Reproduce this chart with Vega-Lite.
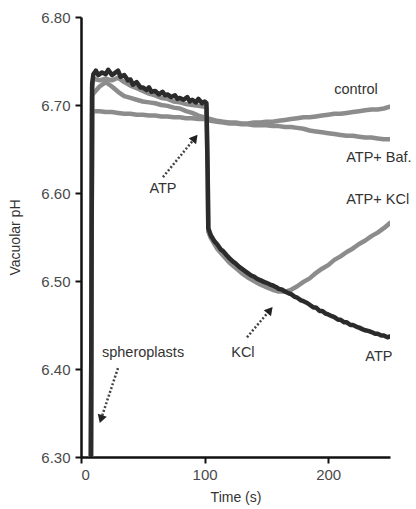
{
  "$schema": "https://vega.github.io/schema/vega-lite/v6.json",
  "width": 309,
  "height": 440,
  "autosize": {"type": "none"},
  "padding": {"left": 81, "top": 17, "right": 26, "bottom": 52},
  "background": "white",
  "config": {
    "view": {"stroke": null},
    "font": "Liberation Sans",
    "axis": {"grid": false, "domainColor": "#111", "domainWidth": 2.5, "tickColor": "#111", "tickWidth": 2, "tickSize": 6, "labelFontSize": 15, "labelColor": "#4a4a4a", "titleFontSize": 14, "titleFontWeight": "normal", "titleColor": "#333"}
  },
  "datasets": {
    "atp": [
      {"t":8,"pH":6.28},{"t":9,"pH":6.724},{"t":10,"pH":6.735},{"t":12,"pH":6.739},{"t":14,"pH":6.734},{"t":17,"pH":6.737},{"t":20,"pH":6.735},{"t":22,"pH":6.74},{"t":25,"pH":6.734},{"t":27,"pH":6.736},{"t":30,"pH":6.739},{"t":32,"pH":6.732},{"t":35,"pH":6.734},{"t":38,"pH":6.728},{"t":40,"pH":6.729},{"t":42,"pH":6.723},{"t":45,"pH":6.726},{"t":48,"pH":6.72},{"t":50,"pH":6.72},{"t":53,"pH":6.717},{"t":55,"pH":6.72},{"t":57,"pH":6.715},{"t":60,"pH":6.716},{"t":63,"pH":6.712},{"t":66,"pH":6.715},{"t":68,"pH":6.711},{"t":70,"pH":6.712},{"t":73,"pH":6.709},{"t":76,"pH":6.711},{"t":78,"pH":6.707},{"t":80,"pH":6.708},{"t":83,"pH":6.706},{"t":86,"pH":6.709},{"t":88,"pH":6.704},{"t":90,"pH":6.706},{"t":93,"pH":6.703},{"t":95,"pH":6.707},{"t":98,"pH":6.702},{"t":100,"pH":6.704},{"t":101.5,"pH":6.702},{"t":102.5,"pH":6.62},{"t":103,"pH":6.56},{"t":105,"pH":6.552},{"t":108,"pH":6.545},{"t":110,"pH":6.542},{"t":113,"pH":6.536},{"t":115,"pH":6.534},{"t":118,"pH":6.529},{"t":120,"pH":6.526},{"t":123,"pH":6.522},{"t":125,"pH":6.52},{"t":128,"pH":6.516},{"t":130,"pH":6.514},{"t":133,"pH":6.511},{"t":135,"pH":6.509},{"t":138,"pH":6.506},{"t":140,"pH":6.505},{"t":143,"pH":6.502},{"t":145,"pH":6.501},{"t":148,"pH":6.499},{"t":150,"pH":6.498},{"t":153,"pH":6.496},{"t":155,"pH":6.495},{"t":158,"pH":6.493},{"t":160,"pH":6.491},{"t":163,"pH":6.49},{"t":165,"pH":6.488},{"t":168,"pH":6.486},{"t":170,"pH":6.485},{"t":173,"pH":6.482},{"t":175,"pH":6.481},{"t":178,"pH":6.478},{"t":180,"pH":6.477},{"t":183,"pH":6.475},{"t":185,"pH":6.473},{"t":188,"pH":6.47},{"t":190,"pH":6.47},{"t":193,"pH":6.466},{"t":195,"pH":6.466},{"t":198,"pH":6.463},{"t":200,"pH":6.462},{"t":203,"pH":6.46},{"t":205,"pH":6.459},{"t":208,"pH":6.456},{"t":210,"pH":6.456},{"t":213,"pH":6.453},{"t":215,"pH":6.453},{"t":218,"pH":6.45},{"t":220,"pH":6.45},{"t":223,"pH":6.448},{"t":225,"pH":6.447},{"t":228,"pH":6.445},{"t":230,"pH":6.444},{"t":233,"pH":6.443},{"t":235,"pH":6.442},{"t":238,"pH":6.44},{"t":240,"pH":6.44},{"t":243,"pH":6.438},{"t":245,"pH":6.438},{"t":248,"pH":6.436},{"t":250,"pH":6.437}
    ],
    "gray": [
      {"s":"ATP+ KCl","t":8,"pH":6.28},{"s":"ATP+ KCl","t":9,"pH":6.72},{"s":"ATP+ KCl","t":10,"pH":6.73},{"s":"ATP+ KCl","t":15,"pH":6.728},{"s":"ATP+ KCl","t":20,"pH":6.73},{"s":"ATP+ KCl","t":25,"pH":6.728},{"s":"ATP+ KCl","t":30,"pH":6.731},{"s":"ATP+ KCl","t":35,"pH":6.726},{"s":"ATP+ KCl","t":40,"pH":6.722},{"s":"ATP+ KCl","t":45,"pH":6.719},{"s":"ATP+ KCl","t":50,"pH":6.716},{"s":"ATP+ KCl","t":55,"pH":6.713},{"s":"ATP+ KCl","t":60,"pH":6.711},{"s":"ATP+ KCl","t":65,"pH":6.708},{"s":"ATP+ KCl","t":70,"pH":6.707},{"s":"ATP+ KCl","t":75,"pH":6.704},{"s":"ATP+ KCl","t":80,"pH":6.703},{"s":"ATP+ KCl","t":85,"pH":6.701},{"s":"ATP+ KCl","t":90,"pH":6.7},{"s":"ATP+ KCl","t":95,"pH":6.699},{"s":"ATP+ KCl","t":100,"pH":6.698},{"s":"ATP+ KCl","t":101.5,"pH":6.697},{"s":"ATP+ KCl","t":102.5,"pH":6.62},{"s":"ATP+ KCl","t":103,"pH":6.556},{"s":"ATP+ KCl","t":105,"pH":6.549},{"s":"ATP+ KCl","t":110,"pH":6.537},{"s":"ATP+ KCl","t":115,"pH":6.529},{"s":"ATP+ KCl","t":120,"pH":6.521},{"s":"ATP+ KCl","t":125,"pH":6.515},{"s":"ATP+ KCl","t":130,"pH":6.509},{"s":"ATP+ KCl","t":135,"pH":6.504},{"s":"ATP+ KCl","t":140,"pH":6.5},{"s":"ATP+ KCl","t":145,"pH":6.496},{"s":"ATP+ KCl","t":150,"pH":6.493},{"s":"ATP+ KCl","t":155,"pH":6.49},{"s":"ATP+ KCl","t":160,"pH":6.488},{"s":"ATP+ KCl","t":165,"pH":6.488},{"s":"ATP+ KCl","t":170,"pH":6.49},{"s":"ATP+ KCl","t":175,"pH":6.494},{"s":"ATP+ KCl","t":180,"pH":6.499},{"s":"ATP+ KCl","t":185,"pH":6.503},{"s":"ATP+ KCl","t":190,"pH":6.509},{"s":"ATP+ KCl","t":195,"pH":6.514},{"s":"ATP+ KCl","t":200,"pH":6.518},{"s":"ATP+ KCl","t":205,"pH":6.524},{"s":"ATP+ KCl","t":210,"pH":6.528},{"s":"ATP+ KCl","t":215,"pH":6.533},{"s":"ATP+ KCl","t":220,"pH":6.537},{"s":"ATP+ KCl","t":225,"pH":6.542},{"s":"ATP+ KCl","t":230,"pH":6.546},{"s":"ATP+ KCl","t":235,"pH":6.551},{"s":"ATP+ KCl","t":240,"pH":6.555},{"s":"ATP+ KCl","t":245,"pH":6.56},{"s":"ATP+ KCl","t":250,"pH":6.566},
      {"s":"control","t":8,"pH":6.28},{"s":"control","t":9,"pH":6.71},{"s":"control","t":10,"pH":6.713},{"s":"control","t":15,"pH":6.721},{"s":"control","t":20,"pH":6.726},{"s":"control","t":25,"pH":6.721},{"s":"control","t":30,"pH":6.715},{"s":"control","t":35,"pH":6.71},{"s":"control","t":40,"pH":6.708},{"s":"control","t":45,"pH":6.706},{"s":"control","t":50,"pH":6.704},{"s":"control","t":55,"pH":6.703},{"s":"control","t":60,"pH":6.702},{"s":"control","t":65,"pH":6.7},{"s":"control","t":70,"pH":6.699},{"s":"control","t":75,"pH":6.697},{"s":"control","t":80,"pH":6.696},{"s":"control","t":85,"pH":6.693},{"s":"control","t":90,"pH":6.691},{"s":"control","t":95,"pH":6.688},{"s":"control","t":100,"pH":6.686},{"s":"control","t":105,"pH":6.684},{"s":"control","t":110,"pH":6.682},{"s":"control","t":115,"pH":6.681},{"s":"control","t":120,"pH":6.68},{"s":"control","t":125,"pH":6.68},{"s":"control","t":130,"pH":6.679},{"s":"control","t":135,"pH":6.679},{"s":"control","t":140,"pH":6.68},{"s":"control","t":145,"pH":6.68},{"s":"control","t":150,"pH":6.681},{"s":"control","t":155,"pH":6.681},{"s":"control","t":160,"pH":6.682},{"s":"control","t":165,"pH":6.683},{"s":"control","t":170,"pH":6.684},{"s":"control","t":175,"pH":6.685},{"s":"control","t":180,"pH":6.686},{"s":"control","t":185,"pH":6.686},{"s":"control","t":190,"pH":6.687},{"s":"control","t":195,"pH":6.688},{"s":"control","t":200,"pH":6.689},{"s":"control","t":205,"pH":6.69},{"s":"control","t":210,"pH":6.69},{"s":"control","t":215,"pH":6.691},{"s":"control","t":220,"pH":6.692},{"s":"control","t":225,"pH":6.693},{"s":"control","t":230,"pH":6.694},{"s":"control","t":235,"pH":6.695},{"s":"control","t":240,"pH":6.695},{"s":"control","t":245,"pH":6.696},{"s":"control","t":250,"pH":6.698},
      {"s":"ATP+ Baf.","t":8,"pH":6.28},{"s":"ATP+ Baf.","t":9,"pH":6.69},{"s":"ATP+ Baf.","t":10,"pH":6.693},{"s":"ATP+ Baf.","t":15,"pH":6.693},{"s":"ATP+ Baf.","t":20,"pH":6.692},{"s":"ATP+ Baf.","t":25,"pH":6.692},{"s":"ATP+ Baf.","t":30,"pH":6.691},{"s":"ATP+ Baf.","t":35,"pH":6.69},{"s":"ATP+ Baf.","t":40,"pH":6.69},{"s":"ATP+ Baf.","t":45,"pH":6.689},{"s":"ATP+ Baf.","t":50,"pH":6.689},{"s":"ATP+ Baf.","t":55,"pH":6.688},{"s":"ATP+ Baf.","t":60,"pH":6.688},{"s":"ATP+ Baf.","t":65,"pH":6.687},{"s":"ATP+ Baf.","t":70,"pH":6.687},{"s":"ATP+ Baf.","t":75,"pH":6.686},{"s":"ATP+ Baf.","t":80,"pH":6.686},{"s":"ATP+ Baf.","t":85,"pH":6.685},{"s":"ATP+ Baf.","t":90,"pH":6.685},{"s":"ATP+ Baf.","t":95,"pH":6.684},{"s":"ATP+ Baf.","t":100,"pH":6.684},{"s":"ATP+ Baf.","t":105,"pH":6.682},{"s":"ATP+ Baf.","t":110,"pH":6.681},{"s":"ATP+ Baf.","t":115,"pH":6.68},{"s":"ATP+ Baf.","t":120,"pH":6.679},{"s":"ATP+ Baf.","t":125,"pH":6.679},{"s":"ATP+ Baf.","t":130,"pH":6.678},{"s":"ATP+ Baf.","t":135,"pH":6.678},{"s":"ATP+ Baf.","t":140,"pH":6.677},{"s":"ATP+ Baf.","t":145,"pH":6.677},{"s":"ATP+ Baf.","t":150,"pH":6.677},{"s":"ATP+ Baf.","t":155,"pH":6.676},{"s":"ATP+ Baf.","t":160,"pH":6.676},{"s":"ATP+ Baf.","t":165,"pH":6.675},{"s":"ATP+ Baf.","t":170,"pH":6.675},{"s":"ATP+ Baf.","t":175,"pH":6.674},{"s":"ATP+ Baf.","t":180,"pH":6.673},{"s":"ATP+ Baf.","t":185,"pH":6.671},{"s":"ATP+ Baf.","t":190,"pH":6.67},{"s":"ATP+ Baf.","t":195,"pH":6.669},{"s":"ATP+ Baf.","t":200,"pH":6.668},{"s":"ATP+ Baf.","t":205,"pH":6.667},{"s":"ATP+ Baf.","t":210,"pH":6.666},{"s":"ATP+ Baf.","t":215,"pH":6.665},{"s":"ATP+ Baf.","t":220,"pH":6.665},{"s":"ATP+ Baf.","t":225,"pH":6.664},{"s":"ATP+ Baf.","t":230,"pH":6.663},{"s":"ATP+ Baf.","t":235,"pH":6.663},{"s":"ATP+ Baf.","t":240,"pH":6.662},{"s":"ATP+ Baf.","t":245,"pH":6.661},{"s":"ATP+ Baf.","t":250,"pH":6.661}
    ],
    "labels": [
      {"label":"control","t":222.5,"pH":6.717},
      {"label":"ATP+ Baf.","t":241,"pH":6.64},
      {"label":"ATP+ KCl","t":240,"pH":6.592},
      {"label":"ATP","t":66.3,"pH":6.604},
      {"label":"KCl","t":131,"pH":6.418},
      {"label":"spheroplasts","t":50.2,"pH":6.418},
      {"label":"ATP","t":241,"pH":6.414}
    ],
    "arrows": [
      {"a":"spheroplasts","t":29.9,"pH":6.401,"t2":16.2,"pH2":6.343},
      {"a":"ATP","t":66.3,"pH":6.618,"t2":92.2,"pH2":6.6625},
      {"a":"KCl","t":134.3,"pH":6.436,"t2":152.9,"pH2":6.467}
    ]
  },
  "layer": [
    {
      "data": {"name": "gray"},
      "mark": {"type": "line", "clip": true, "color": "#8c8c8c", "strokeWidth": 4.5, "strokeJoin": "round", "strokeCap": "round"},
      "encoding": {
        "x": {"field": "t", "type": "quantitative", "scale": {"domain": [0, 250], "nice": false, "zero": false}, "axis": {"values": [0, 100, 200], "title": "Time (s)", "labelPadding": 4, "titlePadding": 8}},
        "y": {"field": "pH", "type": "quantitative", "scale": {"domain": [6.3, 6.8], "nice": false, "zero": false}, "axis": {"values": [6.3, 6.4, 6.5, 6.6, 6.7, 6.8], "format": ".2f", "title": "Vacuolar pH", "labelPadding": 5, "titlePadding": 18}},
        "detail": {"field": "s", "type": "nominal"},
        "order": {"field": "t", "type": "quantitative"}
      }
    },
    {
      "data": {"name": "atp"},
      "mark": {"type": "line", "clip": true, "color": "#2b2b2b", "strokeWidth": 4.5, "strokeJoin": "round", "strokeCap": "round"},
      "encoding": {
        "x": {"field": "t", "type": "quantitative"},
        "y": {"field": "pH", "type": "quantitative"},
        "order": {"field": "t", "type": "quantitative"}
      }
    },
    {
      "data": {"name": "arrows"},
      "mark": {"type": "rule", "color": "#444", "strokeWidth": 2.5, "strokeDash": [2, 2]},
      "encoding": {
        "x": {"field": "t", "type": "quantitative"},
        "y": {"field": "pH", "type": "quantitative"},
        "x2": {"field": "t2"},
        "y2": {"field": "pH2"}
      }
    },
    {
      "data": {"name": "arrows"},
      "transform": [{"filter": "datum.a === 'spheroplasts'"}],
      "mark": {"type": "point", "shape": "triangle-up", "filled": true, "color": "#222", "size": 90, "angle": 198, "opacity": 1},
      "encoding": {"x": {"field": "t2", "type": "quantitative"}, "y": {"field": "pH2", "type": "quantitative"}}
    },
    {
      "data": {"name": "arrows"},
      "transform": [{"filter": "datum.a === 'ATP'"}],
      "mark": {"type": "point", "shape": "triangle-up", "filled": true, "color": "#222", "size": 90, "angle": 39, "opacity": 1},
      "encoding": {"x": {"field": "t2", "type": "quantitative"}, "y": {"field": "pH2", "type": "quantitative"}}
    },
    {
      "data": {"name": "arrows"},
      "transform": [{"filter": "datum.a === 'KCl'"}],
      "mark": {"type": "point", "shape": "triangle-up", "filled": true, "color": "#222", "size": 90, "angle": 40, "opacity": 1},
      "encoding": {"x": {"field": "t2", "type": "quantitative"}, "y": {"field": "pH2", "type": "quantitative"}}
    },
    {
      "data": {"name": "labels"},
      "mark": {"type": "text", "fontSize": 14.5, "color": "#333", "align": "center", "baseline": "middle"},
      "encoding": {
        "x": {"field": "t", "type": "quantitative"},
        "y": {"field": "pH", "type": "quantitative"},
        "text": {"field": "label"}
      }
    }
  ]
}
